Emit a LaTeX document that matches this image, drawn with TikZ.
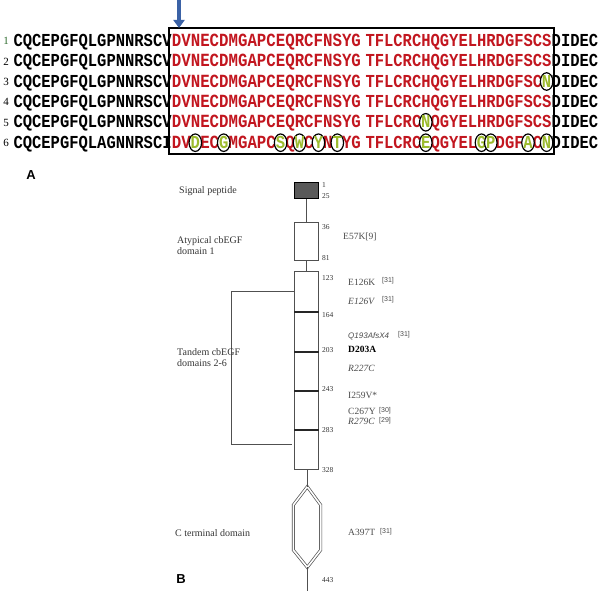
\documentclass[tikz,border=0pt]{standalone}
\usepackage{graphicx}
\usepackage{fontspec}
\setmainfont{Liberation Serif}
\newfontfamily\seqfont{Liberation Mono}
\newfontfamily\arialfont{Liberation Sans}
\usetikzlibrary{arrows.meta,shapes.geometric}
\definecolor{seqred}{HTML}{C2161F}
\definecolor{mutgreen}{HTML}{9CBB2E}
\definecolor{arrowblue}{HTML}{3B62A6}
\definecolor{numgreen}{HTML}{2E6B2E}
\definecolor{lblgray}{HTML}{333333}
\definecolor{mutgray}{HTML}{4A4A4A}
\definecolor{linegray}{HTML}{505050}
\newcommand\tallseq[1]{\scalebox{1}[1.18]{#1}}
\tikzset{
  seqblk/.style={inner sep=0pt, anchor=base west, text=black,
    font=\seqfont\bfseries\fontsize{15.5}{16}\selectfont},
  seqred/.style={inner sep=0pt, anchor=base west, text=seqred,
    font=\seqfont\bfseries\fontsize{15.5}{16}\selectfont},
  seqredwide/.style={seqred, font=\seqfont\bfseries\fontsize{15.75}{16}\selectfont},
  rownum/.style={inner sep=0pt, anchor=base, font=\fontsize{11}{12}\selectfont},
  mutring/.style={draw=black, line width=1.2pt, fill=white, ellipse},
  mutlet/.style={inner sep=0pt, anchor=base, text=mutgreen,
    font=\seqfont\bfseries\fontsize{15.5}{16}\selectfont},
  panel/.style={inner sep=0pt, anchor=center, font=\arialfont\bfseries\fontsize{13}{14}\selectfont},
  dlabel/.style={inner sep=0pt, anchor=base west, text=lblgray, align=left,
    font=\fontsize{10}{11}\selectfont},
  numlbl/.style={inner sep=0pt, anchor=west, text=lblgray, font=\fontsize{7.5}{8}\selectfont},
  mutlbl/.style={inner sep=0pt, anchor=west, text=mutgray, font=\fontsize{9.5}{10}\selectfont},
  reflbl/.style={inner sep=0pt, anchor=west, text=mutgray, font=\arialfont\fontsize{7}{8}\selectfont},
  domainbox/.style={draw=linegray, line width=1pt, fill=white},
  conn/.style={draw=linegray, line width=1.1pt},
  sepline/.style={draw=black!85, line width=1.7pt},
}
\begin{document}
\begin{tikzpicture}[x=1pt,y=-1pt]
\useasboundingbox (0,0) rectangle (600,591);
% ---------------- Panel A ----------------
\def\basea{5.6}
\foreach \i/\yc/\nc/\pre/\ra/\rb in {
  1/40.7/numgreen/CQCEPGFQLGPNNRSCV/DVNECDMGAPCEQRCFNSYG/TFLCRCHQGYELHRDGFSCS,
  2/61.1/black/CQCEPGFQLGPNNRSCV/DVNECDMGAPCEQRCFNSYG/TFLCRCHQGYELHRDGFSCS,
  3/81.5/black/CQCEPGFQLGPNNRSCV/DVNECDMGAPCEQRCFNSYG/TFLCRCHQGYELHRDGFSCN,
  4/101.9/black/CQCEPGFQLGPNNRSCV/DVNECDMGAPCEQRCFNSYG/TFLCRCHQGYELHRDGFSCS,
  5/122.3/black/CQCEPGFQLGPNNRSCV/DVNECDMGAPCEQRCFNSYG/TFLCRCNQGYELHRDGFSCS,
  6/142.7/black/CQCEPGFQLAGNNRSCI/DVDECGMGAPCSQWCYNTYG/TFLCRCEQGYELGPDGFACN}{
  \node[rownum, text=\nc] (n\i) at (6,\yc+4) {\i};
  \node[seqblk] (p\i) at (13.3,\yc+\basea) {\tallseq{\pre}};
  \node[seqredwide] (a\i) at (171.7,\yc+\basea) {\tallseq{\ra}};
  \node[seqred] (b\i) at (365.3,\yc+\basea) {\tallseq{\rb}};
  \node[seqblk] (s\i) at (551.5,\yc+\basea) {\tallseq{DIDEC}};
}
% frame
\draw[black, line width=2pt] (169,28) rectangle (554,154);
% arrow
\coordinate (arrtop) at (179,0);
\coordinate (arrtip) at (179,28);
\draw[arrowblue, line width=3.2pt, -{Triangle[width=11pt,length=8pt]}] (arrtop) -- (arrtip);
% mutations
\foreach \nm/\x/\yc/\l in {
  m61/195.3/142.7/D, m62/223.7/142.7/G, m63/280.6/142.7/S, m64/299.5/142.7/W,
  m65/318.4/142.7/Y, m66/337.3/142.7/T, m67/425.8/142.7/E, m68/481.5/142.7/G,
  m69/490.8/142.7/P, m6a/528.0/142.7/A, m6b/546.6/142.7/N,
  m31/546.6/81.5/N, m51/425.8/122.3/N}{
  \node[mutring, minimum width=12.5pt, minimum height=17.5pt, inner sep=0pt] (\nm) at (\x,\yc) {};
  \node[mutlet] (\nm t) at (\x,\yc+\basea) {\tallseq{\l}};
}
\node[panel] (pa) at (31,175) {A};
% ---------------- Panel B ----------------
\node[panel] (pb) at (181,579) {B};
% signal peptide box
\node[draw=black, line width=0.9pt, fill=black!65, minimum width=23.5pt, minimum height=15.6pt, inner sep=0pt] (sp) at (306.3,190.5) {};
\node[domainbox, minimum width=23.5pt, minimum height=38pt, inner sep=0pt] (d1) at (306.3,241.7) {};
\node[domainbox, minimum width=23.5pt, minimum height=197.6pt, inner sep=0pt] (d2) at (306.3,370.5) {};
\draw[conn] (sp.south) -- (d1.north);
\draw[conn] (d1.south) -- (d2.north);
% separators
\foreach \y in {311.7,351.7,390.7,430}{
  \draw[sepline] (d2.west |- 0,\y) -- (d2.east |- 0,\y);
}
% hexagon
\coordinate (ht) at (307.3,486.7);
\coordinate (hr1) at (320.7,505);
\coordinate (hr2) at (320.7,550);
\coordinate (hb) at (307.3,567.3);
\coordinate (hl2) at (293.3,550);
\coordinate (hl1) at (293.3,505);
\coordinate (cend) at (307.3,591);
\draw[linegray, line width=0.7pt, double, double distance=1.6pt] (ht) -- (hr1) -- (hr2) -- (hb) -- (hl2) -- (hl1) -- cycle;
\draw[conn] (d2.south -| ht) -- (ht);
\draw[conn] (hb) -- (cend);
% bracket
\coordinate (bk1) at (294,291.7);
\coordinate (bk2) at (231.7,291.7);
\coordinate (bk3) at (231.7,444.3);
\coordinate (bk4) at (292,444.3);
\draw[conn, line width=1pt] (bk1) -- (bk2) -- (bk3) -- (bk4);
% left labels
\node[dlabel] (lsp) at (179,193.5) {Signal peptide};
\node[dlabel] (lat) at (177,243) {Atypical cbEGF};
\node[dlabel] (lat2) at (177,254) {domain 1};
\node[dlabel] (ltd) at (177,355.5) {Tandem cbEGF};
\node[dlabel] (ltd2) at (177,366.5) {domains 2-6};
\node[dlabel] (lct) at (175,536) {C terminal domain};
% numbers
\node[numlbl] (k1) at (322,185) {1};
\node[numlbl] (k25) at (322,196) {25};
\node[numlbl] (k36) at (322,227) {36};
\node[numlbl] (k81) at (322,258) {81};
\node[numlbl] (k123) at (322,278) {123};
\node[numlbl] (k164) at (322,315) {164};
\node[numlbl] (k203) at (322,350) {203};
\node[numlbl] (k243) at (322,389) {243};
\node[numlbl] (k283) at (322,430) {283};
\node[numlbl] (k328) at (322,470) {328};
\node[numlbl] (k443) at (322,580) {443};
% mutations
\node[mutlbl] (e57) at (343,237) {E57K[9]};
\node[mutlbl] (e126k) at (348,282) {E126K};
\node[reflbl] (r1) at (382,280.5) {[31]};
\node[mutlbl] (e126v) at (348,301.5) {\itshape E126V};
\node[reflbl] (r2) at (382,300) {[31]};
\node[inner sep=0pt, anchor=west, text=mutgray, font=\arialfont\itshape\fontsize{8}{9}\selectfont] (q193) at (348,336) {Q193AfsX4};
\node[reflbl] (r3) at (398,335) {[31]};
\node[mutlbl, text=black] (d203) at (348,349.5) {\bfseries D203A};
\node[mutlbl] (r227) at (348,368) {\itshape R227C};
\node[mutlbl] (i259) at (348,395.5) {I259V*};
\node[mutlbl] (c267) at (348,411.5) {C267Y};
\node[reflbl] (r4) at (379,410.5) {[30]};
\node[mutlbl] (r279) at (348,421.5) {\itshape R279C};
\node[reflbl] (r5) at (379,420.5) {[29]};
\node[mutlbl] (a397) at (348,532.5) {A397T};
\node[reflbl] (r6) at (380,531.5) {[31]};
\end{tikzpicture}
\end{document}
